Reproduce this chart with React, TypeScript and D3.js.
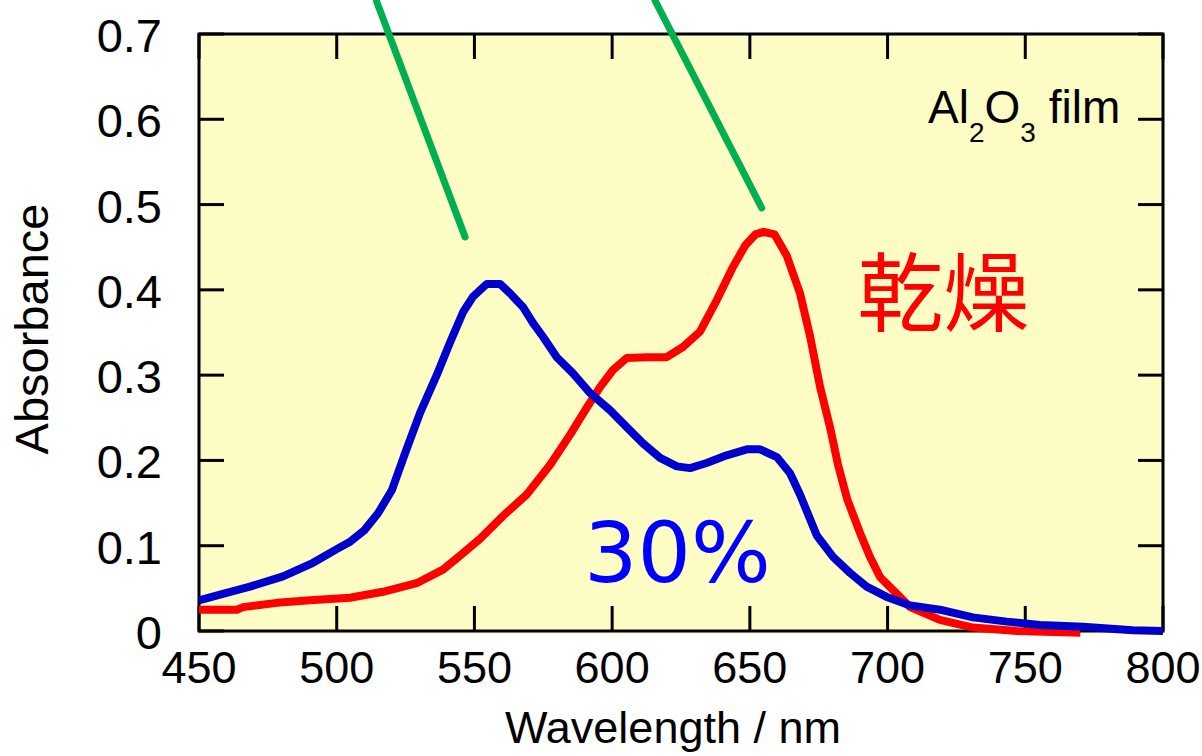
import React from "react";
import * as d3 from "d3";

// 30% humidity spectrum (blue)
const wetWl = [450, 458, 468.5, 480.5, 491.4, 500, 505, 510, 515, 520, 525, 530.3, 536.3, 541.1, 545.9, 549.5, 554.5, 559.3, 562.9, 567.6, 571.3, 574.9, 579.9, 585.8, 592, 599.2, 605.3, 611.2, 617.4, 623.5, 628.3, 634.3, 641.6, 648.9, 653.7, 659.8, 664.6, 668.2, 674.3, 680.2, 686.4, 692.4, 699.7, 708.2, 719, 731, 743.3, 755.4, 771, 789, 800];
const wetAbs = [0.036, 0.043, 0.052, 0.064, 0.08, 0.096, 0.105, 0.118, 0.138, 0.165, 0.21, 0.256, 0.3, 0.338, 0.374, 0.392, 0.407, 0.407, 0.396, 0.38, 0.361, 0.345, 0.321, 0.302, 0.279, 0.259, 0.239, 0.22, 0.203, 0.193, 0.191, 0.197, 0.206, 0.213, 0.213, 0.204, 0.185, 0.16, 0.112, 0.087, 0.068, 0.052, 0.04, 0.03, 0.025, 0.016, 0.011, 0.007, 0.005, 0.001, 0.0];

// dry spectrum (red)
const dryWl = [450, 463.7, 466, 478.2, 490.3, 504.8, 516.8, 529, 538.6, 545, 552, 560.4, 569, 577.5, 584.7, 590.8, 595.6, 600.3, 605.3, 612.6, 619.8, 625.7, 631.9, 638, 643.9, 648.3, 652, 655, 659, 663.4, 668.2, 671.9, 675.5, 679.1, 682, 685.4, 690, 693.6, 697.3, 702, 708.2, 719, 731, 746.9, 770];
const dryAbs = [0.025, 0.025, 0.028, 0.033, 0.036, 0.039, 0.046, 0.056, 0.072, 0.089, 0.108, 0.135, 0.16, 0.195, 0.23, 0.262, 0.286, 0.306, 0.32, 0.321, 0.321, 0.333, 0.351, 0.388, 0.427, 0.452, 0.465, 0.468, 0.465, 0.44, 0.396, 0.345, 0.286, 0.239, 0.195, 0.154, 0.115, 0.087, 0.063, 0.048, 0.028, 0.013, 0.004, 0.0, -0.002];

const xTicks = [450, 500, 550, 600, 650, 700, 750, 800];
const yTicks = [0, 0.1, 0.2, 0.3, 0.4, 0.5, 0.6, 0.7];
const yTickLabels = ["0", "0.1", "0.2", "0.3", "0.4", "0.5", "0.6", "0.7"];

// pointer lines (data coords: [wl, abs] start and end)
const pointers = [
  [[514.5, 0.738], [546.6, 0.462]],
  [[615.6, 0.739], [654.3, 0.496]],
];

const W = 1202;
const H = 756;
const font = "'Liberation Sans', Arial, sans-serif";

export default function App() {
  const x = d3.scaleLinear().domain([450, 800]).range([199, 1163]);
  const y = d3.scaleLinear().domain([0, 0.7]).range([631, 34]);

  const line = d3
    .line<[number, number]>()
    .x((d) => x(d[0]))
    .y((d) => y(d[1]));

  const wet = wetWl.map((w, i) => [w, wetAbs[i]] as [number, number]);
  const dry = dryWl.map((w, i) => [w, dryAbs[i]] as [number, number]);

  const [x0, x1] = x.range();
  const [y0, y1] = y.range();
  const tickLen = 25;

  return (
    <svg
      width={W}
      height={H}
      style={{ position: "absolute", left: 0, top: 0, background: "#fff" }}
    >
      <rect x={x0 - 2} y={y1 - 1} width={x1 - x0 + 4} height={y0 - y1 + 4} fill="#FCFCC4" />

      {/* frame */}
      <rect x={x0} y={y1} width={x1 - x0} height={y0 - y1} fill="none" stroke="#000" strokeWidth={3} />

      {/* ticks on all four sides */}
      {xTicks.map((t) => (
        <g key={"xt" + t}>
          <line x1={x(t)} x2={x(t)} y1={y0} y2={y0 - tickLen} stroke="#000" strokeWidth={3} />
          <line x1={x(t)} x2={x(t)} y1={y1} y2={y1 + tickLen} stroke="#000" strokeWidth={3} />
          <text x={x(t)} y={683} textAnchor="middle" fontFamily={font} fontSize={45} fill="#000">
            {t}
          </text>
        </g>
      ))}
      {yTicks.map((t, i) => (
        <g key={"yt" + t}>
          <line x1={x0} x2={x0 + tickLen} y1={y(t)} y2={y(t)} stroke="#000" strokeWidth={3} />
          <line x1={x1} x2={x1 - tickLen} y1={y(t)} y2={y(t)} stroke="#000" strokeWidth={3} />
          <text x={162} y={y(t) + 18} textAnchor="end" fontFamily={font} fontSize={47} fill="#000">
            {yTickLabels[i]}
          </text>
        </g>
      ))}

      {/* spectra */}
      <path d={line(dry) || ""} fill="none" stroke="#FF0000" strokeWidth={8} strokeLinejoin="round" />
      <path d={line(wet) || ""} fill="none" stroke="#0000CC" strokeWidth={8} strokeLinejoin="round" />

      {/* pointer lines */}
      {pointers.map((p, i) => (
        <line
          key={"p" + i}
          x1={x(p[0][0])}
          y1={y(p[0][1])}
          x2={x(p[1][0])}
          y2={y(p[1][1])}
          stroke="#00B050"
          strokeWidth={7}
          strokeLinecap="round"
        />
      ))}

      {/* annotations */}
      <text x={x(714.7)} y={y(0.596)} fontFamily={font} fontSize={46} fill="#000">
        Al
        <tspan fontSize={28} dy={19}>2</tspan>
        <tspan dy={-19}>O</tspan>
        <tspan fontSize={28} dy={19}>3</tspan>
        <tspan dy={-19}> film</tspan>
      </text>
      <text x={x(689)} y={y(0.359)} fontFamily="'Noto Sans CJK JP', sans-serif" fontSize={86} fill="#FF0000">
        乾燥
      </text>
      <text x={x(589.8)} y={y(0.0575)} fontFamily="'DejaVu Sans', sans-serif" fontSize={84} fill="#0000FF">
        30%
      </text>

      {/* axis titles */}
      <text x={(x0 + x1) / 2 - 8} y={743} textAnchor="middle" fontFamily={font} fontSize={45} fill="#000">
        Wavelength / nm
      </text>
      <text
        transform={`translate(48, ${329}) rotate(-90)`}
        textAnchor="middle"
        fontFamily={font}
        fontSize={47}
        fill="#000"
      >
        Absorbance
      </text>
    </svg>
  );
}
